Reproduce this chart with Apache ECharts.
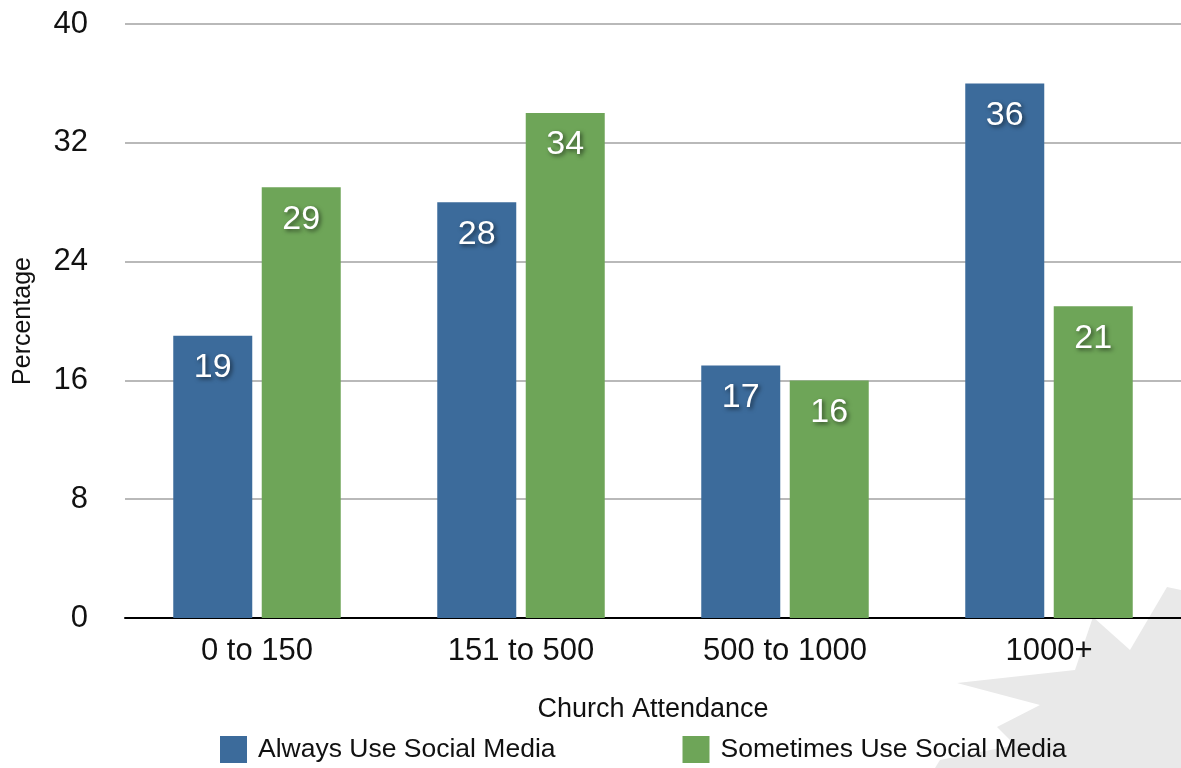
<!DOCTYPE html>
<html>
<head>
<meta charset="utf-8">
<script src="https://cdn.jsdelivr.net/npm/echarts@6/dist/echarts.min.js"></script>
<style>
html,body{margin:0;padding:0;background:#fff;}
#chart{width:1181px;height:768px;}
</style>
</head>
<body>
<div id="chart"></div>
<script>
const categories = ['0 to 150', '151 to 500', '500 to 1000', '1000+'];
const alwaysValues = [19, 28, 17, 36];
const sometimesValues = [29, 34, 16, 21];
const seriesNames = ['Always Use Social Media', 'Sometimes Use Social Media'];
const yTicks = [0, 8, 16, 24, 32, 40];

const FONT = '"Liberation Sans", Arial, Helvetica, sans-serif';
const chart = echarts.init(document.getElementById('chart'));

const labelCfg = {
  show: true,
  position: 'insideTop',
  distance: 15,
  color: '#fff',
  fontSize: 34,
  fontFamily: FONT,
  textShadowColor: 'rgba(0,0,0,0.55)',
  textShadowBlur: 4,
  textShadowOffsetX: 2,
  textShadowOffsetY: 2
};

chart.setOption({
  animation: false,
  backgroundColor: '#fff',
  textStyle: { fontFamily: FONT },
  graphic: [{
    type: 'polygon',
    z: -10,
    silent: true,
    shape: {
      points: [[1181,590],[1167,587],[1130,650],[1093,617],[1075,670],[957,683],[1040,705],[997,727],[1015,745],[940,760],[935,768],[1181,768]]
    },
    style: { fill: '#e9e9e9' }
  }],
  grid: { left: 125, right: 0, top: 24, bottom: 150, containLabel: false, outerBoundsMode: 'none' },
  legend: {
    bottom: 0,
    left: 215,
    itemWidth: 27,
    itemHeight: 27,
    itemGap: 127,
    icon: 'rect',
    textStyle: { fontSize: 26.5, color: '#111', fontFamily: FONT, padding: [0, 0, 0, 6] },
    data: seriesNames
  },
  xAxis: {
    type: 'category',
    data: categories,
    name: 'Church Attendance',
    nameLocation: 'middle',
    nameGap: 78,
    nameMoveOverlap: false,
    nameTextStyle: { fontSize: 27, color: '#111', fontFamily: FONT },
    axisLine: { lineStyle: { color: '#000', width: 2 } },
    axisTick: { show: false },
    axisLabel: { fontSize: 31, color: '#111', margin: 18, fontFamily: FONT }
  },
  yAxis: {
    type: 'value',
    min: yTicks[0],
    max: yTicks[yTicks.length - 1],
    interval: yTicks[1] - yTicks[0],
    name: 'Percentage',
    nameLocation: 'middle',
    nameGap: 89,
    nameMoveOverlap: false,
    nameTextStyle: { fontSize: 25, color: '#111', fontFamily: FONT },
    axisLine: { show: false },
    axisTick: { show: false },
    axisLabel: { fontSize: 31, color: '#111', margin: 37, fontFamily: FONT },
    splitLine: { lineStyle: { color: '#b9b9b9', width: 2 } }
  },
  series: [
    {
      name: seriesNames[0],
      type: 'bar',
      data: alwaysValues,
      barWidth: 79,
      barGap: '12%',
      itemStyle: { color: '#3c6b9b' },
      label: labelCfg
    },
    {
      name: seriesNames[1],
      type: 'bar',
      data: sometimesValues,
      barWidth: 79,
      barGap: '12%',
      itemStyle: { color: '#6ea558' },
      label: labelCfg
    }
  ]
});
</script>
</body>
</html>
